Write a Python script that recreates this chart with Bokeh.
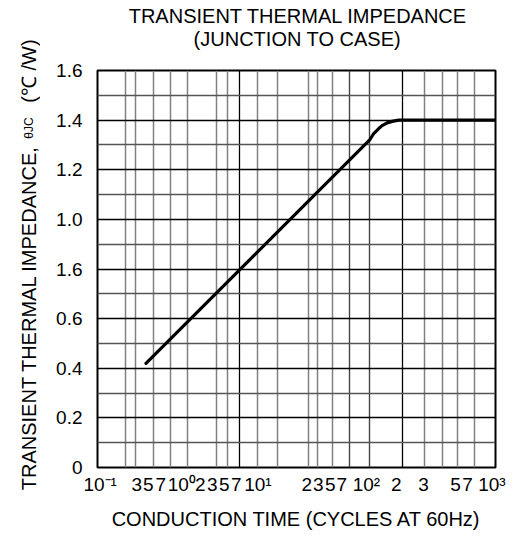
from bokeh.plotting import figure
from bokeh.layouts import column, row
from bokeh.models import FixedTicker, Grid, Range1d
from bokeh.core.properties import value
from bokeh.embed import file_html
from bokeh.resources import INLINE
import numpy as np

# ---- data ----
# curve: conduction time (cycles) vs transient thermal impedance (C/W)
curve_x = [0.307, 54.4, 59.7, 67.0, 72.5, 81.5, 91.4, 106.6, 1000.0]
curve_y = [0.42, 1.32, 1.346, 1.366, 1.378, 1.389, 1.395, 1.40, 1.40]

# x tick labels (as printed on the chart) and where they sit along the log axis
x_tick_labels = ["10⁻¹", "3", "5", "7", "10⁰", "2", "3", "5", "7", "10¹",
                 "2", "3", "5", "7", "10²", "2", "3", "5", "7", "10³"]
x_tick_pos = [0.1065, 0.2478, 0.3236, 0.4321, 0.7028, 1.079, 1.424, 1.880, 2.483, 4.10,
              12.71, 16.59, 21.89, 28.58, 50.39, 100.9, 188.7, 395.8, 522.6, 920.0]

# vertical grid lines as drawn on the chart
x_grid_gray = [0.190, 0.2433, 0.3659, 0.5472, 0.8114, 1.588, 2.049, 4.010, 6.374,
               13.31, 16.09, 22.78, 193.1, 294.9, 417.6, 614.5]
x_grid_dark = [34.00, 54.39]
x_grid_black = [2.680, 116.8]

# y ticks and their printed labels
y_ticks = [0, 0.2, 0.4, 0.6, 0.8, 1.0, 1.2, 1.4, 1.6]
y_tick_labels = ["0", "0.2", "0.4", "0.6", "1.6", "1.0", "1.2", "1.4", "1.6"]
y_grid_major = [0.2, 0.4, 0.6, 0.8, 1.0, 1.2, 1.4]
y_grid_minor = [0.1, 0.3, 0.5, 0.7, 0.9, 1.1, 1.3, 1.5]

title_line1 = "TRANSIENT THERMAL IMPEDANCE"
title_line2 = "(JUNCTION TO CASE)"
x_label = "CONDUCTION TIME (CYCLES AT 60Hz)"
y_label_main = "TRANSIENT THERMAL IMPEDANCE,"
y_label_sym = "θJC"
y_label_unit = "(℃ /W)"

FONT = "Liberation Sans"


def blank_fig(w, h, xr, yr):
    f = figure(width=w, height=h, x_range=xr, y_range=yr,
               output_backend="svg", toolbar_location=None,
               x_axis_location=None, y_axis_location=None,
               min_border=0, outline_line_color=None)
    f.grid.visible = False
    f.background_fill_color = "white"
    f.border_fill_color = "white"
    return f


# ---- y-label strip, full height (pixels, y measured up from the bottom) ----
lfig = blank_fig(40, 536, Range1d(0, 40), Range1d(0, 536))
lfig.text(x=[28, 28, 28], y=[218.5, 408.5, 465.5],
          text=[y_label_main, y_label_sym, y_label_unit],
          angle=np.pi / 2, text_align="center", text_baseline="middle",
          text_font=value(FONT), text_font_size=["20px", "12px", "20px"], text_color="black")

# ---- title strip ----
tfig = blank_fig(480, 55, Range1d(40, 520), Range1d(55, 0))
tfig.text(x=[282, 281], y=[15.5, 38.5], text=[title_line1, title_line2],
          text_align="center", text_baseline="alphabetic",
          text_font=value(FONT), text_font_size="20px", text_color="black")

# ---- main chart ----
p = figure(width=480, height=481, x_axis_type="log",
           x_range=Range1d(0.1, 1000), y_range=Range1d(0, 1.6),
           output_backend="svg", toolbar_location=None,
           min_border_left=57, min_border_right=25,
           min_border_top=15, min_border_bottom=69)

p.outline_line_color = "black"
p.outline_line_width = 2
p.background_fill_color = "white"
p.border_fill_color = "white"

# x axis
xa = p.xaxis[0]
xa.ticker = FixedTicker(ticks=x_tick_pos)
xa.major_label_overrides = dict(zip(x_tick_pos, x_tick_labels))
xa.major_tick_line_color = None
xa.minor_tick_line_color = None
xa.major_tick_out = 0
xa.major_tick_in = 0
xa.minor_tick_out = 0
xa.minor_tick_in = 0
xa.axis_line_color = None
xa.major_label_standoff = 6
xa.major_label_text_font_size = "19px"
xa.major_label_text_font = FONT
xa.major_label_text_color = "black"
xa.axis_label = x_label
xa.axis_label_text_font = FONT
xa.axis_label_text_font_size = "20px"
xa.axis_label_text_font_style = "normal"
xa.axis_label_text_color = "black"
xa.axis_label_standoff = 10

# y axis
ya = p.yaxis[0]
ya.ticker = FixedTicker(ticks=y_ticks)
ya.major_label_overrides = dict(zip(y_ticks, y_tick_labels))
ya.major_tick_line_color = None
ya.minor_tick_line_color = None
ya.major_tick_out = 0
ya.major_tick_in = 0
ya.minor_tick_out = 0
ya.minor_tick_in = 0
ya.axis_line_color = None
ya.major_label_standoff = 15
ya.major_label_text_font_size = "19px"
ya.major_label_text_font = FONT
ya.major_label_text_color = "black"

# grids
p.xgrid.visible = False
p.ygrid.visible = False
p.add_layout(Grid(dimension=0, ticker=FixedTicker(ticks=x_grid_gray),
                  grid_line_color="#808080", grid_line_width=1.5), "center")
p.add_layout(Grid(dimension=0, ticker=FixedTicker(ticks=x_grid_dark),
                  grid_line_color="#444444", grid_line_width=1.4), "center")
p.add_layout(Grid(dimension=0, ticker=FixedTicker(ticks=x_grid_black),
                  grid_line_color="black", grid_line_width=1.3), "center")
p.add_layout(Grid(dimension=1, ticker=FixedTicker(ticks=y_grid_minor),
                  grid_line_color="#555555", grid_line_width=1.3), "center")
p.add_layout(Grid(dimension=1, ticker=FixedTicker(ticks=y_grid_major),
                  grid_line_color="black", grid_line_width=1.3), "center")

# curve
p.line(curve_x, curve_y, line_color="black", line_width=3.2, line_join="round", line_cap="round")

layout = row(lfig, column(tfig, p, spacing=0), spacing=0)
open("out.html", "w").write(file_html(layout, INLINE))
